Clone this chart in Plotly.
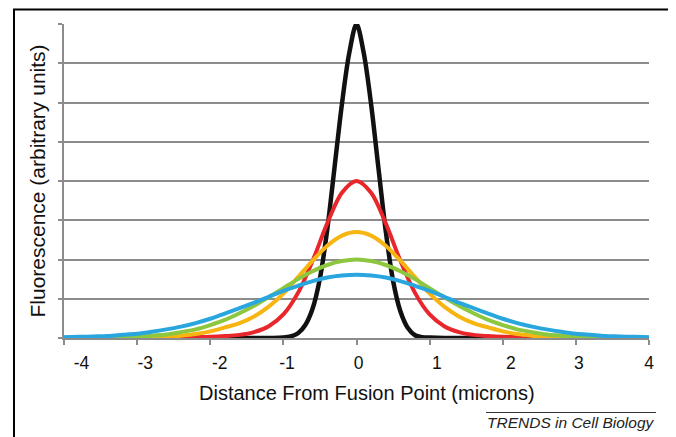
import plotly.graph_objects as go

# ---- data ----
x_wide = [-4.0, -3.8, -3.6, -3.4, -3.2, -3.0, -2.8, -2.6, -2.4, -2.2, -2.0,
          -1.8, -1.6, -1.4, -1.2, -1.0, -0.8, -0.6, -0.4, -0.2, 0.0,
          0.2, 0.4, 0.6, 0.8, 1.0, 1.2, 1.4, 1.6, 1.8, 2.0,
          2.2, 2.4, 2.6, 2.8, 3.0, 3.2, 3.4, 3.6, 3.8, 4.0]

x_black = [-4.0, -1.2, -1.0, -0.9, -0.8, -0.7, -0.6, -0.5, -0.4, -0.3, -0.2, -0.1, 0.0,
           0.1, 0.2, 0.3, 0.4, 0.5, 0.6, 0.7, 0.8, 0.9, 1.0, 1.2, 4.0]
y_black = [0, 0, 0.01, 0.04, 0.12, 0.33, 0.75, 1.52, 2.76, 4.35, 5.95, 7.25, 8.0,
           7.25, 5.95, 4.33, 2.72, 1.46, 0.68, 0.26, 0.07, 0.02, 0.01, 0, 0]

y_red = [0, 0, 0, 0, 0, 0, 0, 0, 0.01, 0.02, 0.03,
         0.05, 0.08, 0.15, 0.30, 0.60, 1.15, 1.97, 2.92, 3.70, 4.00,
         3.70, 2.92, 1.97, 1.15, 0.60, 0.30, 0.15, 0.08, 0.05, 0.03,
         0.02, 0.01, 0, 0, 0, 0, 0, 0, 0, 0]

y_orange = [0, 0, 0, 0, 0, 0.01, 0.02, 0.03, 0.06, 0.10, 0.17,
            0.27, 0.38, 0.55, 0.80, 1.13, 1.55, 1.97, 2.35, 2.61, 2.70,
            2.61, 2.35, 1.97, 1.55, 1.13, 0.80, 0.55, 0.38, 0.27, 0.17,
            0.10, 0.06, 0.03, 0.02, 0.01, 0, 0, 0, 0, 0]

y_green = [0, 0, 0, 0.01, 0.02, 0.03, 0.06, 0.09, 0.15, 0.22, 0.33,
           0.46, 0.63, 0.82, 1.04, 1.27, 1.50, 1.70, 1.86, 1.96, 2.00,
           1.96, 1.86, 1.70, 1.50, 1.27, 1.04, 0.82, 0.63, 0.46, 0.33,
           0.22, 0.15, 0.09, 0.06, 0.03, 0.02, 0.01, 0, 0, 0]

y_blue = [0.02, 0.03, 0.04, 0.05, 0.08, 0.11, 0.16, 0.22, 0.29, 0.38, 0.49,
          0.62, 0.76, 0.90, 1.05, 1.20, 1.33, 1.45, 1.54, 1.59, 1.61,
          1.59, 1.54, 1.45, 1.33, 1.20, 1.05, 0.90, 0.76, 0.62, 0.49,
          0.38, 0.29, 0.22, 0.16, 0.11, 0.08, 0.05, 0.04, 0.03, 0.02]

x_tickvals = [-4, -3, -2, -1, 0, 1, 2, 3, 4]
x_ticktext = ["-4", "-3", "-2", "-1", "0", "1", "2", "3", "4"]
y_tickvals = [0, 1, 2, 3, 4, 5, 6, 7, 8]

x_title = "Distance From Fusion Point (microns)"
y_title = "Fluorescence (arbitrary units)"
credit = "TRENDS in Cell Biology"

# layout: in the reference the tick labels sit slightly right of their ticks
x_label_pos = [-3.76, -2.89, -1.87, -0.95, 0.03, 1.10, 2.11, 3.04, 4.0]

# ---- figure ----
# page body has an 8px margin, so the figure is 8px smaller and all
# reference pixel positions are shifted by OFF
OFF = 8
W, H = 676 - OFF, 437 - OFF
L, R, T, B = 64 - OFF, 27, 24 - OFF, 99
pw, ph = W - L - R, H - T - B

def px_x(p):
    return (p - OFF - L) / pw

def px_y(p):
    return (H - B - (p - OFF)) / ph

fig = go.Figure()
series = [
    (x_black, y_black, "#111111", 4.5),
    (x_wide, y_red, "#e8262b", 4),
    (x_wide, y_orange, "#f7b512", 4),
    (x_wide, y_green, "#8dc63f", 4),
    (x_wide, y_blue, "#2aa6df", 4),
]
for xs, ys, col, w in series:
    fig.add_trace(go.Scatter(x=xs, y=ys, mode="lines",
                             line=dict(color=col, width=w, shape="spline", smoothing=0.9),
                             showlegend=False, hoverinfo="skip"))
# carrier (invisible) so the label axis is drawn
fig.add_trace(go.Scatter(x=[x_tickvals[0], x_tickvals[-1]], y=[0, 0], xaxis="x2",
                         mode="lines", line=dict(width=0, color="rgba(0,0,0,0)"),
                         showlegend=False, hoverinfo="skip"))

grid = "#8c8c8c"
fig.update_layout(
    width=W, height=H,
    margin=dict(l=L, r=R, t=T, b=B),
    paper_bgcolor="white", plot_bgcolor="white",
    font=dict(family="Liberation Sans, Arial, sans-serif", color="#111111"),
    xaxis=dict(range=[-4, 4], tickvals=x_tickvals, showticklabels=False,
               showgrid=False, zeroline=False, showline=True, linecolor=grid, linewidth=2,
               ticks="outside", ticklen=5, tickwidth=2, tickcolor=grid,
               automargin=False, fixedrange=True),
    xaxis2=dict(range=[-4, 4], overlaying="x", anchor="y", side="bottom",
                tickvals=x_label_pos, ticktext=x_ticktext,
                showgrid=False, zeroline=False, showline=False,
                ticks="outside", ticklen=5, tickwidth=0, tickcolor="rgba(0,0,0,0)",
                tickfont=dict(size=17.5), ticklabelstandoff=4,
                automargin=False, fixedrange=True),
    yaxis=dict(range=[0, 8], tickvals=y_tickvals, showticklabels=False,
               showgrid=True, gridcolor=grid, gridwidth=2,
               zeroline=False, showline=True, linecolor=grid, linewidth=2,
               ticks="outside", ticklen=4, tickwidth=2, tickcolor=grid,
               title=dict(text=y_title, font=dict(size=21), standoff=7),
               automargin=False, fixedrange=True),
)

# x axis title (sits right of centre in the reference)
fig.add_annotation(text=x_title, xref="paper", yref="paper",
                   x=px_x(366.5), y=px_y(393), xanchor="center", yanchor="middle",
                   showarrow=False, font=dict(size=20, color="#111111"))

# outer black frame
fig.add_shape(type="rect", xref="paper", yref="paper",
              x0=px_x(14), x1=px_x(671), y0=px_y(450), y1=px_y(9.5),
              line=dict(color="black", width=2), fillcolor="rgba(0,0,0,0)", layer="above")
# credit line and text
fig.add_shape(type="line", xref="paper", yref="paper",
              x0=px_x(486), x1=px_x(656), y0=px_y(412.5), y1=px_y(412.5),
              line=dict(color="#333333", width=1))
fig.add_annotation(text="<i>" + credit + "</i>", xref="paper", yref="paper",
                   x=px_x(656), y=px_y(422), xanchor="right", yanchor="middle",
                   showarrow=False, font=dict(size=15.5, color="#222222"))

fig.write_html("out.html")
